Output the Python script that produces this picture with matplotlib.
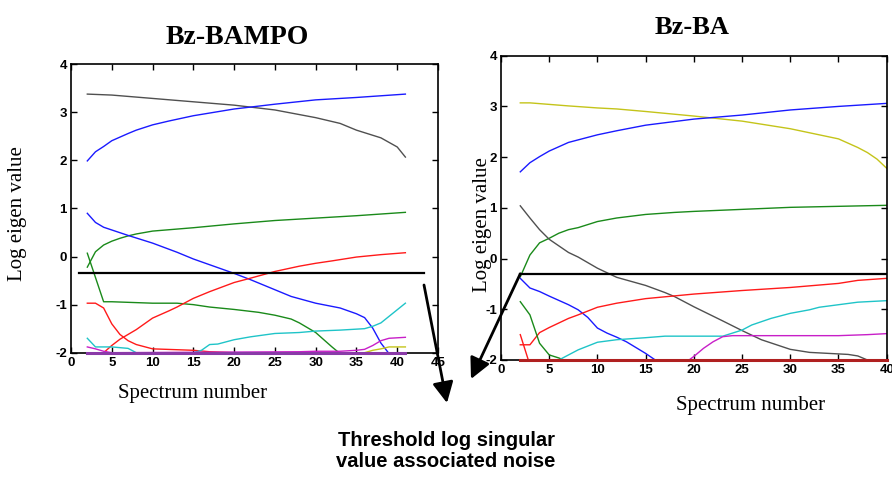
import matplotlib
matplotlib.use("Agg")
import matplotlib.pyplot as plt

W, H = 892, 486
plt.rcParams["axes.unicode_minus"] = False

# ---------------- Bz-BAMPO eigenvalue curves ----------------
bampo_gray_x = [2, 5, 10, 15, 20, 25, 30, 33, 35, 38, 40, 41]
bampo_gray_y = [3.38, 3.36, 3.29, 3.22, 3.15, 3.05, 2.89, 2.77, 2.63, 2.47, 2.28, 2.07]

bampo_blue1_x = [2, 3, 4, 5, 7, 8, 10, 12, 15, 20, 25, 30, 35, 41]
bampo_blue1_y = [1.99, 2.18, 2.29, 2.41, 2.56, 2.63, 2.74, 2.82, 2.93, 3.07, 3.17, 3.26, 3.31, 3.38]

bampo_green1_x = [2, 3, 4, 5, 6, 7, 8, 10, 15, 20, 25, 30, 35, 41]
bampo_green1_y = [-0.22, 0.10, 0.24, 0.32, 0.38, 0.43, 0.47, 0.53, 0.60, 0.68, 0.75, 0.80, 0.85, 0.92]

bampo_blue2_x = [2, 3, 4, 7, 10, 13, 15, 17, 20, 22, 25, 27, 30, 33, 35, 36, 37, 38, 39]
bampo_blue2_y = [0.90, 0.71, 0.61, 0.44, 0.28, 0.09, -0.05, -0.17, -0.35, -0.48, -0.69,
                 -0.83, -0.97, -1.07, -1.19, -1.27, -1.49, -1.80, -2.02]

bampo_green2_x = [2, 4, 5, 10, 13, 15, 17, 20, 23, 25, 27, 28, 30, 32, 33]
bampo_green2_y = [0.07, -0.94, -0.94, -0.97, -0.97, -1.00, -1.05, -1.10, -1.16, -1.22,
                  -1.30, -1.38, -1.58, -1.88, -2.02]

bampo_red1_x = [4, 5, 6, 8, 10, 12, 13, 15, 17, 20, 22, 25, 28, 30, 32, 35, 38, 41]
bampo_red1_y = [-2.0, -1.85, -1.72, -1.52, -1.28, -1.13, -1.05, -0.87, -0.73, -0.54, -0.45,
                -0.31, -0.20, -0.14, -0.09, -0.01, 0.04, 0.08]

bampo_red2_x = [2, 3, 4, 5, 6, 7, 8, 10, 15, 17, 20]
bampo_red2_y = [-0.97, -0.97, -1.07, -1.40, -1.62, -1.75, -1.83, -1.92, -1.95, -1.98, -2.0]

bampo_cyan_x = [2, 3, 5, 7, 8, 15, 16, 17, 18, 20, 21, 22, 25, 28, 30, 33, 36, 37, 38, 41]
bampo_cyan_y = [-1.70, -1.88, -1.88, -1.91, -2.0, -2.0, -1.95, -1.83, -1.82, -1.73, -1.70,
                -1.67, -1.60, -1.58, -1.55, -1.53, -1.50, -1.45, -1.38, -0.97]

bampo_mag_x = [2, 3, 4, 5, 28, 30, 33, 35, 36, 37, 38, 39, 41]
bampo_mag_y = [-1.88, -1.92, -1.97, -2.0, -1.98, -1.97, -1.97, -1.95, -1.93, -1.85, -1.75,
               -1.70, -1.68]

bampo_yel_x = [36, 37, 38, 39, 41]
bampo_yel_y = [-2.0, -1.95, -1.92, -1.88, -1.88]

bampo_floor_x = [2, 41]
bampo_floor_y = [-2.0, -2.0]

bampo_thresh_x = [1, 43.3]
bampo_thresh_y = [-0.35, -0.35]

# ---------------- Bz-BA eigenvalue curves ----------------
ba_yel_x = [2, 3, 5, 7, 10, 12, 15, 20, 25, 30, 33, 35, 37, 38, 39, 40]
ba_yel_y = [3.07, 3.07, 3.04, 3.01, 2.97, 2.95, 2.90, 2.81, 2.71, 2.56, 2.44, 2.36, 2.19,
            2.09, 1.96, 1.78]

ba_blue1_x = [2, 3, 4, 5, 7, 10, 12, 15, 20, 25, 30, 35, 40]
ba_blue1_y = [1.71, 1.89, 2.01, 2.12, 2.29, 2.44, 2.52, 2.63, 2.75, 2.83, 2.93, 3.00, 3.06]

ba_green1_x = [2, 3, 4, 5, 6, 7, 8, 10, 12, 15, 18, 20, 25, 30, 35, 40]
ba_green1_y = [-0.36, 0.07, 0.31, 0.40, 0.50, 0.57, 0.61, 0.73, 0.80, 0.87, 0.91, 0.93,
               0.97, 1.01, 1.03, 1.05]

ba_gray_x = [2, 3, 4, 5, 7, 8, 10, 12, 15, 17, 18, 20, 23, 25, 27, 30, 32, 35, 36, 37, 38]
ba_gray_y = [1.04, 0.80, 0.57, 0.38, 0.12, 0.03, -0.19, -0.37, -0.53, -0.67, -0.75, -0.95,
             -1.23, -1.42, -1.60, -1.79, -1.85, -1.88, -1.89, -1.92, -2.0]

ba_blue2_x = [2, 3, 4, 5, 7, 8, 9, 10, 11, 12, 13, 15, 16]
ba_blue2_y = [-0.39, -0.58, -0.65, -0.74, -0.91, -1.01, -1.16, -1.37, -1.47, -1.55, -1.64,
              -1.87, -2.0]

ba_red1_x = [2, 3, 4, 5, 7, 8, 10, 12, 15, 20, 25, 30, 35, 37, 40]
ba_red1_y = [-1.70, -1.70, -1.46, -1.36, -1.18, -1.11, -0.96, -0.88, -0.79, -0.70, -0.63,
             -0.57, -0.49, -0.43, -0.39]

ba_red2_x = [2, 3]
ba_red2_y = [-1.50, -2.10]

ba_green2_x = [2, 3, 4, 5, 6, 6.5]
ba_green2_y = [-0.85, -1.11, -1.67, -1.90, -1.96, -2.0]

ba_cyan_x = [6, 7, 8, 10, 12, 15, 17, 20, 23, 24, 25, 26, 28, 30, 32, 33, 35, 37, 40]
ba_cyan_y = [-2.0, -1.90, -1.80, -1.65, -1.60, -1.56, -1.53, -1.53, -1.53, -1.47, -1.41,
             -1.31, -1.18, -1.08, -1.01, -0.96, -0.91, -0.86, -0.83]

ba_mag_x = [19.5, 20, 21, 22, 23, 24, 30, 35, 38, 40]
ba_mag_y = [-2.0, -1.93, -1.77, -1.64, -1.54, -1.52, -1.52, -1.52, -1.50, -1.48]

ba_floor_x = [2, 40]
ba_floor_y = [-2.0, -2.0]

ba_thresh_x = [2, 40]
ba_thresh_y = [-0.30, -0.30]

xticks_bampo = [0, 5, 10, 15, 20, 25, 30, 35, 40, 45]
xticks_ba = [0, 5, 10, 15, 20, 25, 30, 35, 40]
yticks = [-2, -1, 0, 1, 2, 3, 4]

C_B = "#1a1aff"
C_G = "#1a8a1a"
C_R = "#ff1a1a"
C_C = "#1fc4c8"
C_M = "#c81fc8"
C_Y = "#c4c41a"
C_K = "#505050"

serif = ["Liberation Serif", "DejaVu Serif"]
sans = ["Liberation Sans", "DejaVu Sans"]

fig = plt.figure(figsize=(W / 100, H / 100), dpi=100)


def px_rect(x0, y0, x1, y1):
    return [x0 / W, 1 - y1 / H, (x1 - x0) / W, (y1 - y0) / H]


def style_axes(ax, xmax, xt):
    ax.set_xlim(0, xmax)
    ax.set_ylim(-2, 4)
    ax.set_xticks(xt)
    ax.set_yticks(yticks)
    ax.tick_params(direction="in", top=True, right=True, length=4, width=1,
                   labelsize=9.5, pad=3)
    for lab in ax.get_xticklabels() + ax.get_yticklabels():
        lab.set_fontfamily(sans)
        lab.set_fontweight("bold")
    for s in ax.spines.values():
        s.set_linewidth(1.2)


lw = 1.0

# Left panel
ax1 = fig.add_axes(px_rect(71, 64.3, 438, 352.7))
ax1.plot(bampo_gray_x, bampo_gray_y, color=C_K, lw=lw)
ax1.plot(bampo_blue1_x, bampo_blue1_y, color=C_B, lw=lw)
ax1.plot(bampo_green1_x, bampo_green1_y, color=C_G, lw=lw)
ax1.plot(bampo_blue2_x, bampo_blue2_y, color=C_B, lw=lw)
ax1.plot(bampo_green2_x, bampo_green2_y, color=C_G, lw=lw)
ax1.plot(bampo_red1_x, bampo_red1_y, color=C_R, lw=lw)
ax1.plot(bampo_red2_x, bampo_red2_y, color=C_R, lw=lw)
ax1.plot(bampo_cyan_x, bampo_cyan_y, color=C_C, lw=lw)
ax1.plot(bampo_mag_x, bampo_mag_y, color=C_M, lw=lw)
ax1.plot(bampo_yel_x, bampo_yel_y, color=C_Y, lw=lw)
ax1.plot(bampo_floor_x, bampo_floor_y, color="#8a3aa8", lw=2.2, clip_on=False, zorder=3)
ax1.plot(bampo_thresh_x, bampo_thresh_y, color="black", lw=1.6)
style_axes(ax1, 45, xticks_bampo)

# Right panel
ax2 = fig.add_axes(px_rect(501, 55.7, 886.7, 360))
ax2.plot(ba_yel_x, ba_yel_y, color=C_Y, lw=lw)
ax2.plot(ba_blue1_x, ba_blue1_y, color=C_B, lw=lw)
ax2.plot(ba_green1_x, ba_green1_y, color=C_G, lw=lw)
ax2.plot(ba_gray_x, ba_gray_y, color=C_K, lw=lw)
ax2.plot(ba_blue2_x, ba_blue2_y, color=C_B, lw=lw)
ax2.plot(ba_red1_x, ba_red1_y, color=C_R, lw=lw)
ax2.plot(ba_red2_x, ba_red2_y, color=C_R, lw=lw)
ax2.plot(ba_green2_x, ba_green2_y, color=C_G, lw=lw)
ax2.plot(ba_cyan_x, ba_cyan_y, color=C_C, lw=lw)
ax2.plot(ba_mag_x, ba_mag_y, color=C_M, lw=lw)
ax2.plot(ba_floor_x, ba_floor_y, color="#b02020", lw=2.2, clip_on=False, zorder=3)
ax2.plot(ba_thresh_x, ba_thresh_y, color="black", lw=1.6)
style_axes(ax2, 40, xticks_ba)


def ftext(x, y, s, **kw):
    fig.text(x / W, 1 - y / H, s, **kw)


ftext(237, 38, "Bz-BAMPO", family=serif, weight="bold", fontsize=20,
      ha="center", va="center")
ftext(692, 28, "Bz-BA", family=serif, weight="bold", fontsize=19,
      ha="center", va="center")
ftext(18, 214, "Log eigen value", family=serif, fontsize=15, rotation=90,
      ha="center", va="center")
ftext(482, 225, "Log eigen value", family=serif, fontsize=15, rotation=90,
      ha="center", va="center")
ftext(193, 393, "Spectrum number", family=serif, fontsize=15,
      ha="center", va="center")
ftext(751, 405, "Spectrum number", family=serif, fontsize=15,
      ha="center", va="center")
ftext(446, 451, "Threshold log singular\nvalue associated noise", family=sans,
      weight="bold", fontsize=14.5, ha="center", va="center", linespacing=1.15)

# Pointers from the threshold lines to the caption
arrow_kw = dict(arrowstyle="-|>,head_length=0.9,head_width=0.45", color="black",
                lw=2, shrinkA=0, shrinkB=0)
fig.add_artist(matplotlib.patches.FancyArrowPatch(
    (424 / W, 1 - 285 / H), (447 / W, 1 - 403 / H),
    transform=fig.transFigure, mutation_scale=14, **arrow_kw))
start = ax2.transData.transform((ba_thresh_x[0], ba_thresh_y[0]))
start = fig.transFigure.inverted().transform(start)
fig.add_artist(matplotlib.patches.FancyArrowPatch(
    tuple(start), (471 / W, 1 - 379 / H),
    transform=fig.transFigure, mutation_scale=14, **arrow_kw))

fig.savefig("out.png", dpi=100)
